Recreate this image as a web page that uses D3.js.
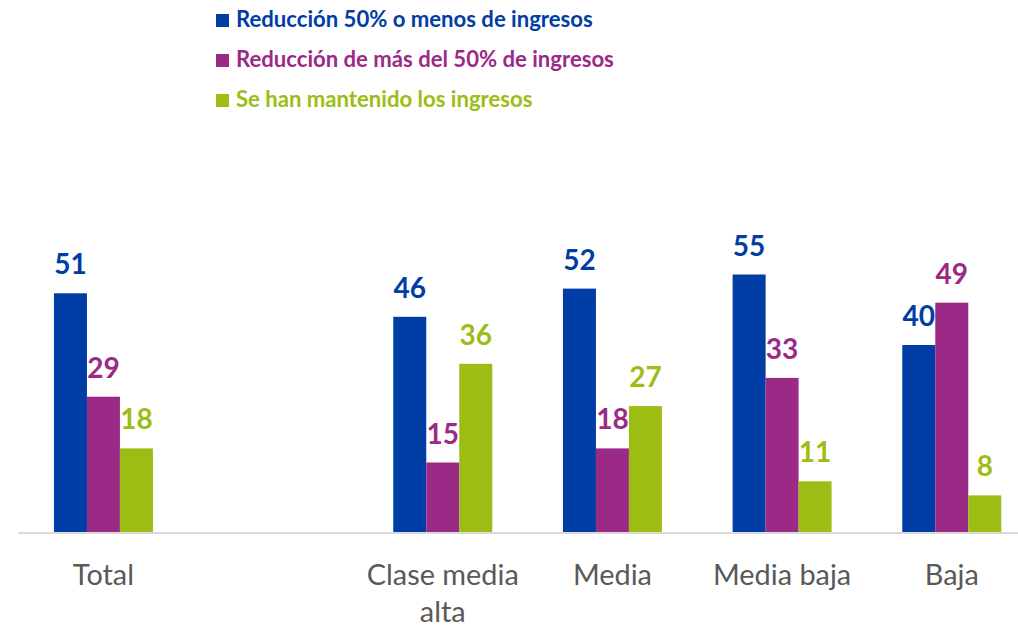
<!DOCTYPE html>
<html>
<head>
<meta charset="utf-8">
<script src="https://cdn.jsdelivr.net/npm/d3@7"></script>
<style>
  html, body { margin: 0; padding: 0; background: #fff; }
  svg { display: block; }
</style>
</head>
<body>
<svg id="chart" width="1018" height="627"></svg>
<script>
const categories = ["Total", "", "Clase media alta", "Media", "Media baja", "Baja"];
const seriesNames = [
  "Reducción 50% o menos de ingresos",
  "Reducción de más del 50% de ingresos",
  "Se han mantenido los ingresos"
];
const reduccionMenos = [51, null, 46, 52, 55, 40];
const reduccionMas = [29, null, 15, 18, 33, 49];
const mantenido = [18, null, 36, 27, 11, 8];
const colors = ["#003DA5", "#9B2A87", "#9BBD14"];

const seriesValues = [reduccionMenos, reduccionMas, mantenido];

const svg = d3.select("#chart");
const baseY = 533;
const font = "Lato, 'Open Sans', sans-serif";

const x0 = d3.scaleBand()
  .domain(d3.range(categories.length))
  .range([18.6, 1036.6])
  .paddingInner(0.4166)
  .paddingOuter(0.2083);

const x1 = d3.scaleBand()
  .domain(d3.range(seriesNames.length))
  .range([0, x0.bandwidth()]);

const y = d3.scaleLinear().domain([0, 60]).range([baseY, baseY - 60 * 4.7]);

// helper: font size so that text has target width
function fitSize(text, weight, target, base) {
  const t = svg.append("text").attr("font-family", font).attr("font-weight", weight)
    .attr("font-size", base).text(text);
  const w = t.node().getComputedTextLength();
  t.remove();
  return base * target / w;
}

// bars
const groups = svg.append("g").selectAll("g")
  .data(categories.map((c, i) => ({ i, vals: seriesValues.map(s => s[i]) })))
  .join("g")
  .attr("transform", d => `translate(${x0(d.i)},0)`);

groups.selectAll("rect")
  .data(d => d.vals.map((v, k) => ({ v, k })).filter(e => e.v != null))
  .join("rect")
  .attr("x", e => x1(e.k))
  .attr("width", x1.bandwidth())
  .attr("y", e => y(e.v))
  .attr("height", e => y(0) - y(e.v))
  .attr("fill", e => colors[e.k]);

groups.selectAll("text")
  .data(d => d.vals.map((v, k) => ({ v, k })).filter(e => e.v != null))
  .join("text")
  .attr("x", e => x1(e.k) + x1.bandwidth() / 2)
  .attr("y", e => y(e.v) - 19)
  .attr("text-anchor", "middle")
  .attr("font-family", font)
  .attr("font-weight", "bold")
  .attr("font-size", 28)
  .attr("fill", e => colors[e.k])
  .text(e => e.v);

// axis
const axis = svg.append("g")
  .attr("transform", `translate(0,${baseY})`)
  .call(d3.axisBottom(x0).tickSize(0).tickSizeOuter(0).tickFormat(""));
axis.select(".domain").attr("stroke", "#D9D9D9").attr("stroke-width", 2)
  .attr("d", `M18,0H1018`);

// category labels
const catSize = fitSize("Clase media", "normal", 152, 27);
const lines = { "Clase media alta": ["Clase media", "alta"] };
const catG = svg.append("g");
categories.forEach((c, i) => {
  if (!c) return;
  const ls = lines[c] || [c];
  const t = catG.append("text")
    .attr("text-anchor", "middle")
    .attr("font-family", font)
    .attr("font-size", catSize)
    .attr("fill", "#595959");
  ls.forEach((l, j) => {
    t.append("tspan")
      .attr("x", x0(i) + x0.bandwidth() / 2)
      .attr("y", 585 + j * 37)
      .text(l);
  });
});

// legend
const legSize = fitSize(seriesNames[0], "bold", 357, 20);
const legend = svg.append("g");
seriesNames.forEach((n, k) => {
  const yy = 27 + k * 40;
  legend.append("rect")
    .attr("x", 216).attr("y", yy - 13)
    .attr("width", 13).attr("height", 13)
    .attr("fill", colors[k]);
  legend.append("text")
    .attr("x", 236).attr("y", yy)
    .attr("font-family", font)
    .attr("font-weight", "bold")
    .attr("font-size", legSize)
    .attr("fill", colors[k])
    .text(n);
});
</script>
</body>
</html>
